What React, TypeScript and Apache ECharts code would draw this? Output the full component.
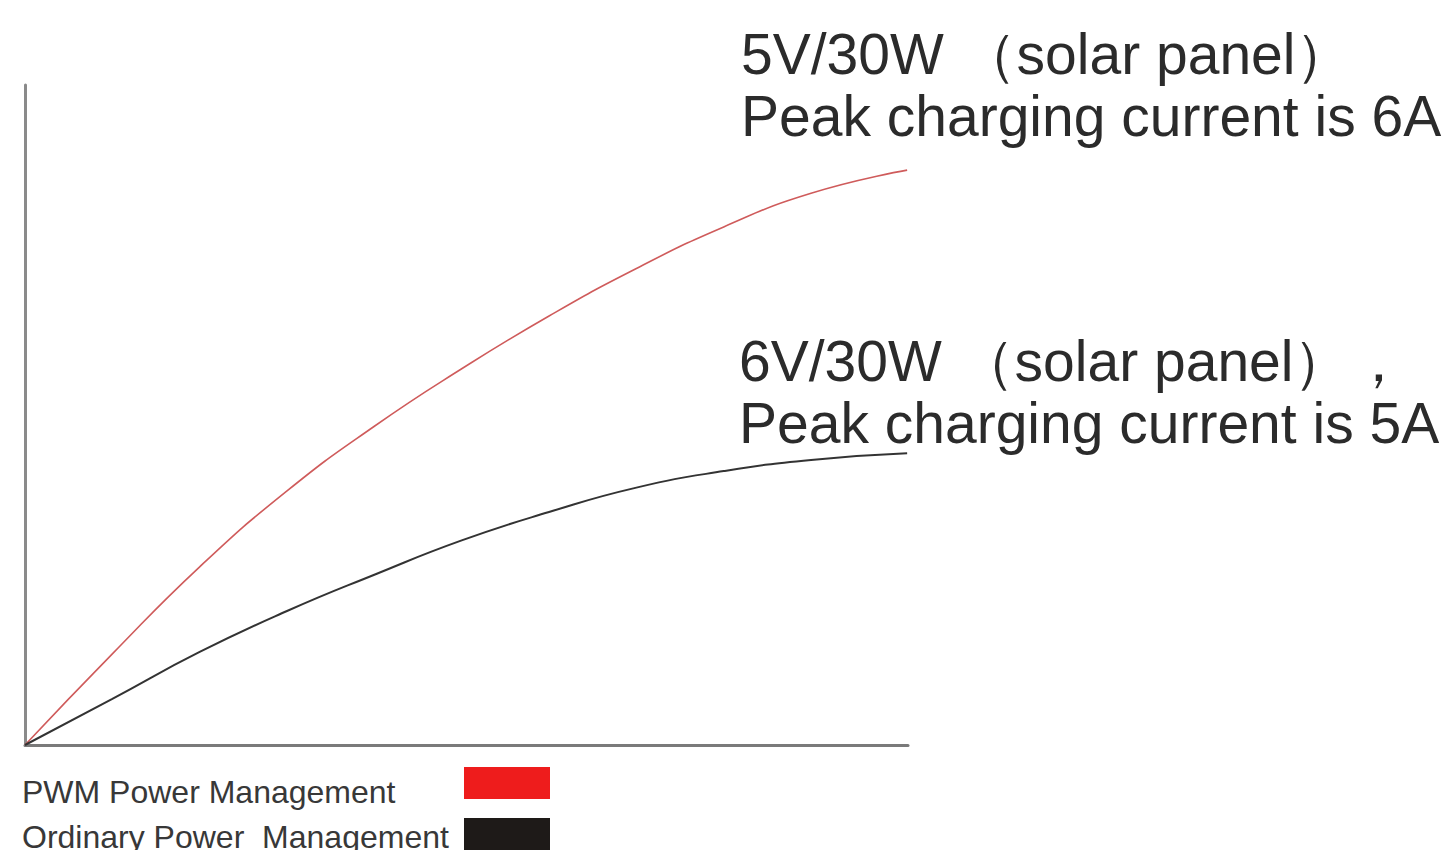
import React, { useEffect, useRef } from "react";
import * as echarts from "echarts";

// x positions (arbitrary time units) and charging current (arbitrary units)
const xValues = [0, 10, 20, 30, 40, 50, 60, 70, 80, 90, 101];
const pwmValues = [0, 13.8, 27.0, 38.5, 48.3, 57.0, 65.0, 72.2, 78.5, 83.6, 87.1];
const ordinaryValues = [0, 7.0, 14.1, 20.3, 25.8, 31.0, 35.3, 39.0, 41.5, 43.2, 44.2];

const seriesNames = ["PWM Power Management", "Ordinary Power  Management"];
const seriesColors = ["#cf5b5b", "#333333"];
const legendColors = ["#ee1c1c", "#1e1a18"];

const annotationPwm = ["5V/30W （solar panel）", "Peak charging current is 6A"];
const annotationOrdinary = ["6V/30W （solar panel），", "Peak charging current is 5A"];

const FONT = "Liberation Sans, Arial, Helvetica, sans-serif";

export default function App() {
  const ref = useRef<HTMLDivElement>(null);

  useEffect(() => {
    if (!ref.current) return;
    document.body.style.margin = "0";
    const chart = echarts.init(ref.current, undefined, { renderer: "svg" });

    const toPairs = (ys: number[]) => xValues.map((x, i) => [x, ys[i]]);

    const annotText = (lines: string[], x: number, y: number) => ({
      type: "text",
      left: x,
      top: y,
      style: {
        text: lines.join("\n"),
        font: `57px ${FONT}`,
        fill: "#2b2b2b",
        lineHeight: 62,
      },
    });

    const legendItem = (i: number, textTop: number, rectTop: number) => [
      {
        type: "text",
        left: 22,
        top: textTop,
        style: {
          text: seriesNames[i],
          font: `32px ${FONT}`,
          fill: "#383838",
        },
      },
      {
        type: "rect",
        shape: { x: 464, y: rectTop, width: 86, height: 32 },
        style: { fill: legendColors[i] },
      },
    ];

    chart.setOption({
      animation: false,
      backgroundColor: "#ffffff",
      grid: { left: 25, top: 85, width: 883, height: 660, containLabel: false },
      xAxis: {
        type: "value",
        min: 0,
        max: 101.1,
        axisLine: { show: true, lineStyle: { color: "#7a7a7a", width: 3 } },
        axisTick: { show: false },
        axisLabel: { show: false },
        splitLine: { show: false },
      },
      yAxis: {
        type: "value",
        min: 0,
        max: 100,
        axisLine: { show: true, lineStyle: { color: "#8a8a8a", width: 3 } },
        axisTick: { show: false },
        axisLabel: { show: false },
        splitLine: { show: false },
      },
      series: [
        {
          name: seriesNames[0],
          type: "line",
          data: toPairs(pwmValues),
          smooth: true,
          symbol: "none",
          clip: false,
          lineStyle: { color: seriesColors[0], width: 1.6 },
        },
        {
          name: seriesNames[1],
          type: "line",
          data: toPairs(ordinaryValues),
          smooth: true,
          symbol: "none",
          clip: false,
          lineStyle: { color: seriesColors[1], width: 2 },
        },
      ],
      graphic: [
        annotText(annotationPwm, 741, 23),
        annotText(annotationOrdinary, 739, 330),
        ...legendItem(0, 776, 767),
        ...legendItem(1, 821, 818),
      ],
    });

    return () => chart.dispose();
  }, []);

  return (
    <div
      ref={ref}
      style={{ position: "absolute", left: 0, top: 0, width: 1455, height: 850, overflow: "hidden" }}
    />
  );
}
